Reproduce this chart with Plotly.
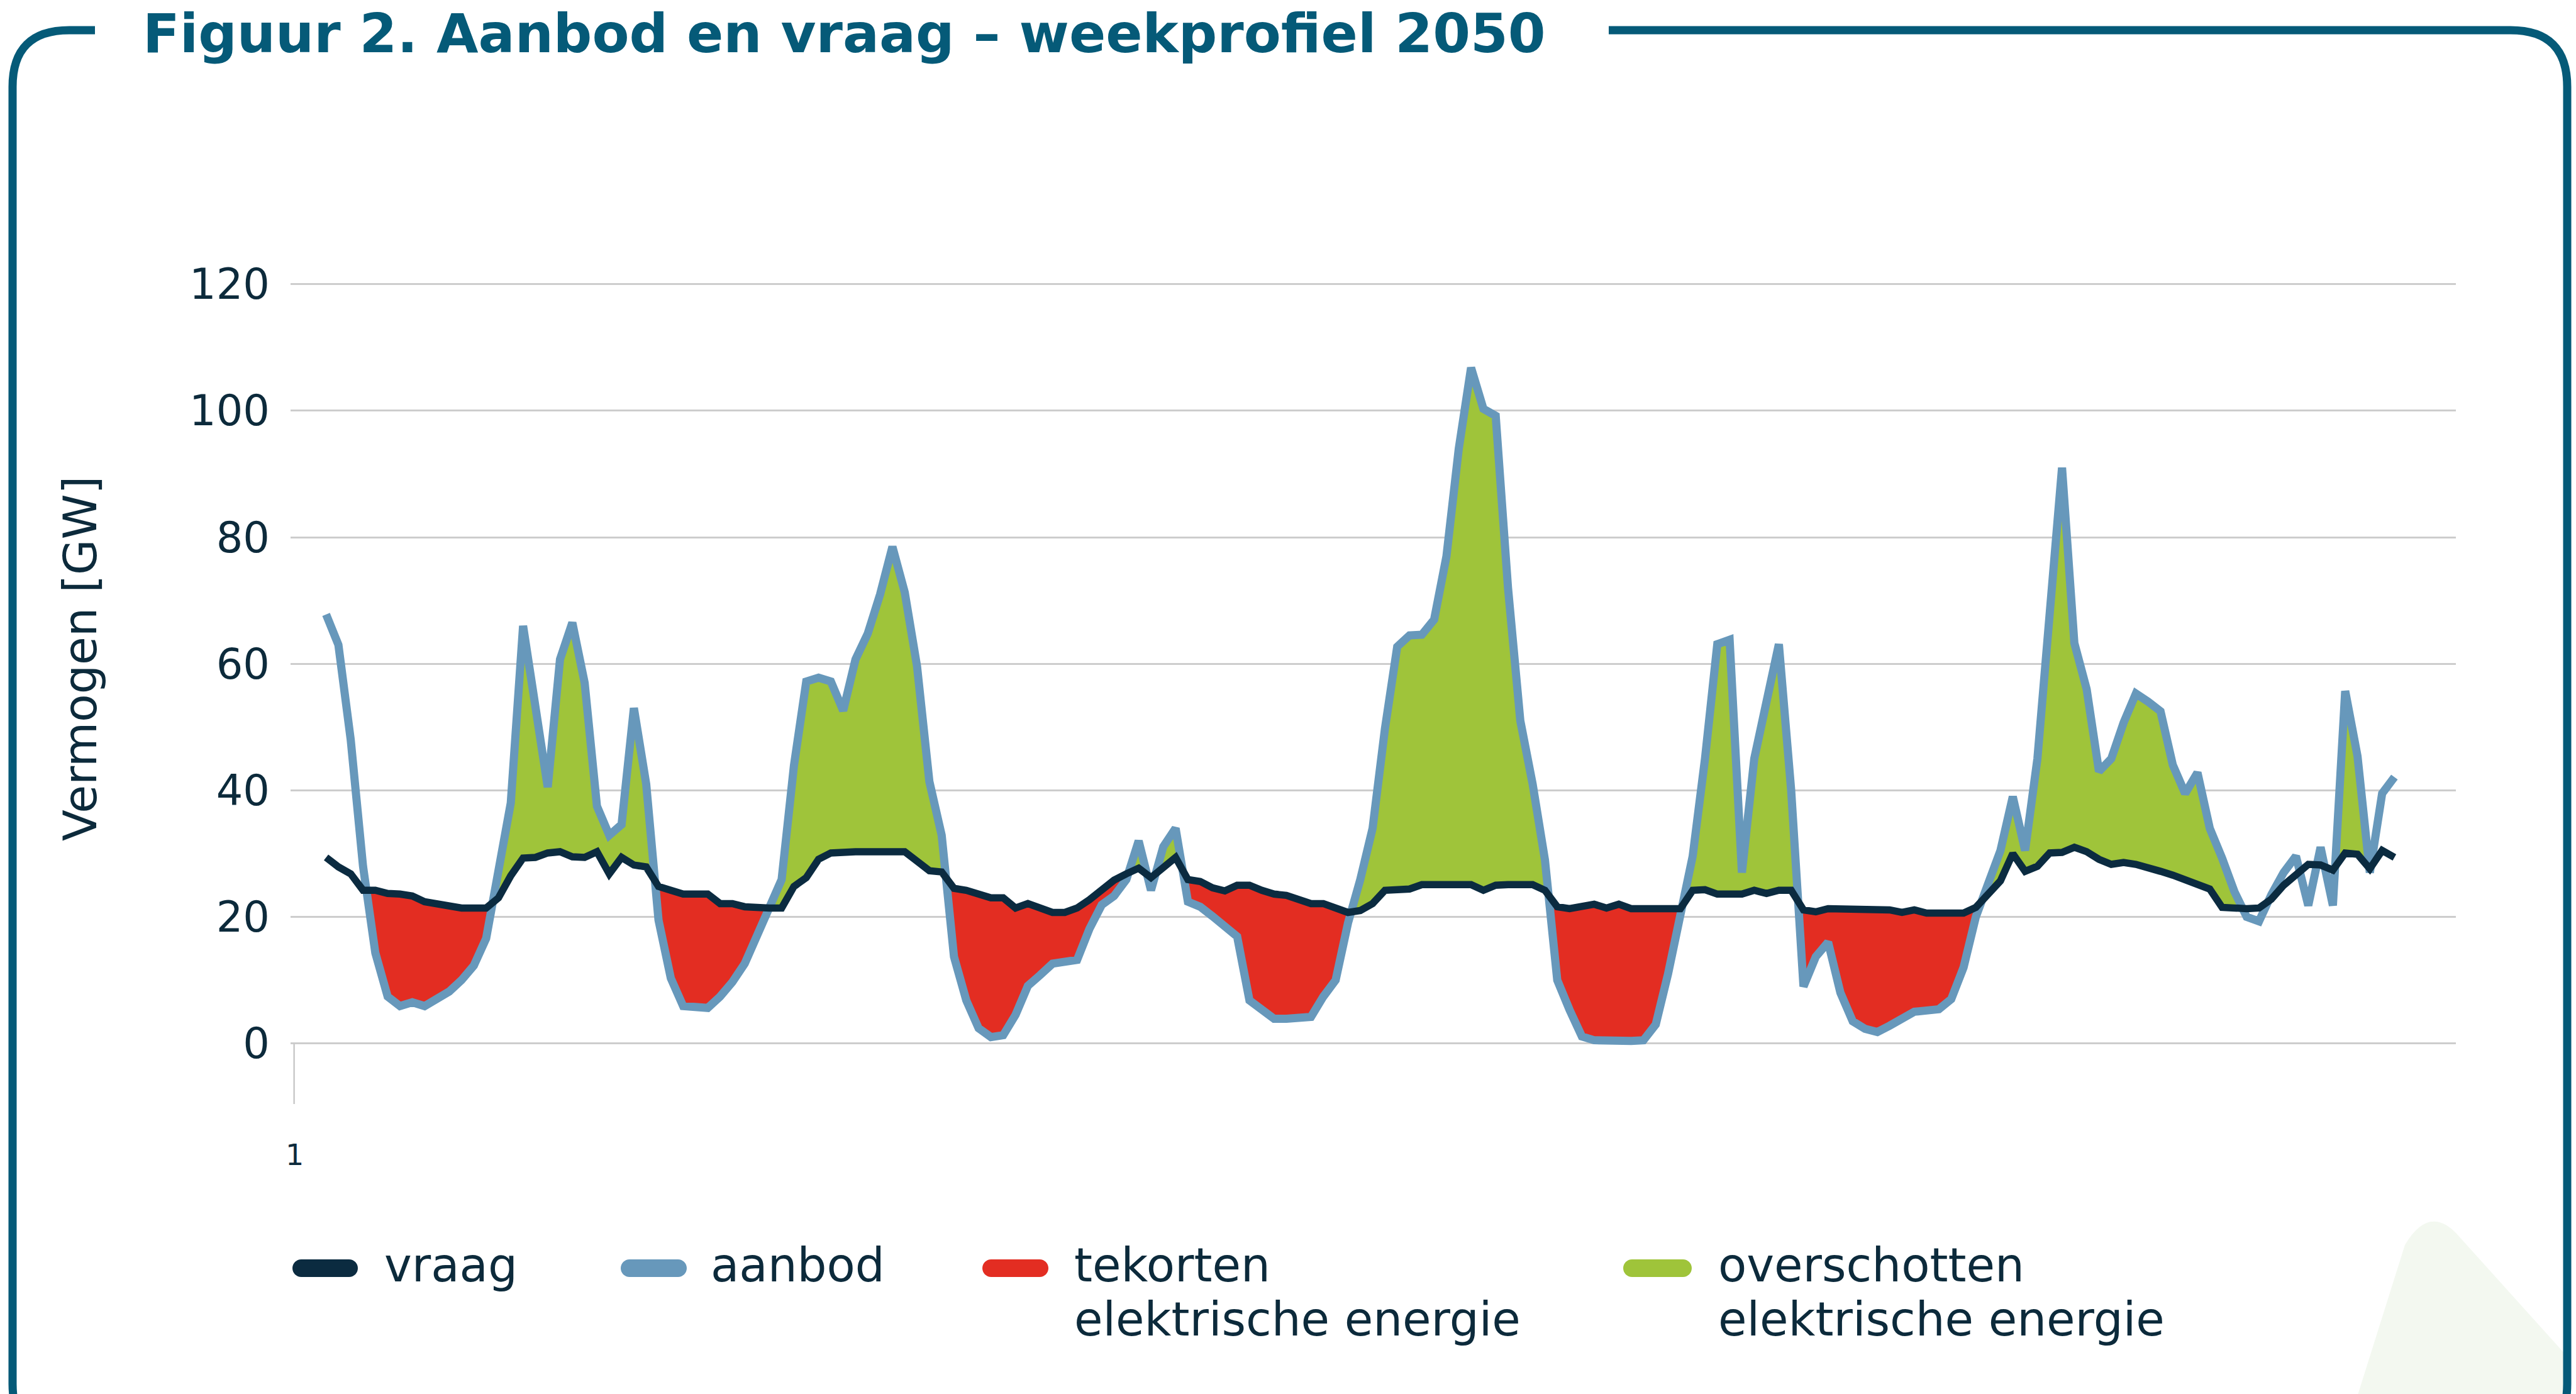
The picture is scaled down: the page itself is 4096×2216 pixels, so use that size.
import plotly.graph_objects as go

# ---------------- data ----------------
uren = list(range(169))  # hour offset within the week

aanbod = [
    67.8, 63.0, 48.0, 28.0, 14.3, 7.4, 5.9, 6.5, 5.9, 7.1,
    8.2, 10.0, 12.3, 16.6, 27.7, 38.0, 66.0, 54.0, 40.5, 60.7,
    66.5, 57.0, 37.5, 32.9, 34.6, 53.0, 41.0, 19.5, 10.3, 5.9,
    5.6, 5.6, 7.4, 9.7, 12.6, 17.2, 21.3, 25.9, 43.9, 57.2,
    57.8, 57.2, 52.6, 60.7, 64.8, 71.0, 78.5, 71.3, 59.6, 41.4,
    32.9, 13.7, 6.8, 2.4, 1.0, 1.3, 4.5, 9.1, 10.8, 12.6,
    12.9, 13.2, 18.1, 21.9, 23.3, 25.9, 32.0, 24.2, 31.1, 34.0,
    22.4, 21.6, 20.1, 18.4, 16.9, 6.8, 5.3, 3.9, 3.9, 3.9,
    4.2, 7.4, 10.0, 19.0, 25.9, 34.0, 49.7, 62.7, 64.5, 64.6,
    67.0, 77.0, 94.0, 106.8, 100.3, 99.2, 72.0, 51.0, 41.0, 29.0,
    10.0, 5.3, 1.1, 0.5, 0.4, 0.4, 0.4, 0.5, 3.0, 11.0,
    20.0, 29.6, 45.0, 63.1, 63.8, 27.0, 45.0, 54.0, 63.1, 40.0,
    9.0, 13.7, 16.0, 8.0, 3.5, 2.3, 1.8, 2.8, 4.0, 5.0,
    5.2, 5.4, 7.0, 12.0, 20.0, 25.5, 30.5, 39.0, 30.5, 45.0,
    70.0, 91.0, 63.3, 56.0, 43.0, 45.0, 50.7, 55.3, 54.0, 52.5,
    44.0, 39.5, 42.8, 34.0, 29.3, 24.0, 20.0, 19.3, 23.5, 27.0,
    29.6, 21.8, 31.0, 21.8, 55.7, 45.4, 27.0, 39.5, 42.1,
]

vraag = [
    29.4, 27.9, 26.8, 24.2, 24.2, 23.7, 23.6, 23.3, 22.4, 22.1,
    21.6, 21.4, 21.4, 21.4, 23.0, 26.5, 29.3, 29.4, 30.1, 30.3,
    29.5, 29.4, 30.3, 26.8, 29.4, 28.2, 27.9, 24.8, 24.2, 23.6,
    23.6, 23.6, 22.1, 22.1, 21.6, 21.4, 21.4, 21.4, 24.8, 26.2,
    29.1, 30.1, 30.3, 30.3, 30.3, 30.3, 30.3, 30.3, 28.8, 27.3,
    27.1, 24.5, 24.2, 23.6, 23.0, 23.0, 21.4, 22.1, 21.4, 20.7,
    20.7, 21.4, 22.7, 24.3, 25.8, 26.8, 27.7, 26.2, 27.9, 29.4,
    25.9, 25.6, 24.6, 24.1, 25.0, 25.0, 24.2, 23.6, 23.4, 22.7,
    22.1, 22.1, 21.4, 20.7, 21.0, 22.1, 24.2, 24.2, 24.4, 25.1,
    25.1, 25.1, 25.1, 25.1, 24.2, 25.0, 25.1, 25.1, 25.1, 24.2,
    21.6, 21.3, 21.7, 22.0, 21.4, 22.0, 21.3, 21.3, 21.3, 21.3,
    21.3, 24.2, 24.3, 23.6, 23.6, 23.6, 24.2, 23.7, 24.2, 24.2,
    21.1, 20.8, 21.3, 21.3, 21.3, 21.3, 21.3, 21.1, 20.7, 21.1,
    20.6, 20.6, 20.6, 20.6, 21.5, 23.6, 25.7, 30.0, 27.2, 28.0,
    30.1, 30.2, 31.0, 30.3, 29.1, 28.3, 28.6, 28.3, 27.6, 27.2,
    26.6, 25.9, 25.4, 24.4, 21.5, 21.3, 21.3, 21.4, 22.8, 25.0,
    26.6, 28.3, 28.2, 27.4, 30.1, 29.9, 27.6, 30.5, 29.4,
]

# hour spans in which the source shows tekorten / overschotten shading
vul_bereik = [(3.0, 155.0), (163.0, 165.5)]

y_ticks = [0, 20, 40, 60, 80, 100, 120]
x_ticklabel = "1"

titel = "Figuur 2. Aanbod en vraag \u2013 weekprofiel 2050"
y_titel = "Vermogen [GW]"
legenda = [
    ("vraag", None, "#0b2b40"),
    ("aanbod", None, "#6798bb"),
    ("tekorten", "elektrische energie", "#e32d22"),
    ("overschotten", "elektrische energie", "#9fc43a"),
]

# ---------------- styling ----------------
C_VRAAG = "#0b2b40"
C_AANBOD = "#6798bb"
C_ROOD = "#e32d22"
C_GROEN = "#9fc43a"
C_TEKST = "#0c2a3b"
C_KADER = "#055a78"
FONT = "DejaVu Sans"

W, H = 4096, 2216
L, R, T, B = 462, 3905, 442, 1755
X_RANGE = [-2.887, 172.99]
Y_RANGE = [-9.58, 120.98]


def px(xp):
    return (xp - L) / (R - L)


def py(yp):
    return (B - yp) / (B - T)


# ---------------- fill polygons between aanbod and vraag ----------------
def runs_between(xs, a, v):
    pts = []
    for k in range(len(xs)):
        if k > 0:
            d0 = a[k - 1] - v[k - 1]
            d1 = a[k] - v[k]
            if d0 * d1 < 0:
                t = d0 / (d0 - d1)
                xc = xs[k - 1] + t * (xs[k] - xs[k - 1])
                yc = a[k - 1] + t * (a[k] - a[k - 1])
                pts.append((xc, yc, yc))
        pts.append((xs[k], a[k], v[k]))
    runs = []
    cur = []
    cur_sign = 0
    for p in pts:
        d = p[1] - p[2]
        s = 0 if abs(d) < 1e-9 else (1 if d > 0 else -1)
        if s == 0:
            if cur:
                cur.append(p)
                runs.append((cur_sign, cur))
            cur = [p]
            cur_sign = 0
        else:
            if cur_sign == 0 or s == cur_sign:
                cur_sign = s
                cur.append(p)
            else:
                runs.append((cur_sign, cur))
                cur = [p]
                cur_sign = s
    if cur:
        runs.append((cur_sign, cur))
    return runs


def in_bereik(xm):
    return any(lo <= xm <= hi for lo, hi in vul_bereik)


fig = go.Figure()

for sign, run in runs_between(uren, aanbod, vraag):
    if sign == 0 or len(run) < 2:
        continue
    xm = 0.5 * (run[0][0] + run[-1][0])
    if not in_bereik(xm):
        continue
    xs = [p[0] for p in run] + [p[0] for p in reversed(run)]
    ys = [p[1] for p in run] + [p[2] for p in reversed(run)]
    fig.add_trace(go.Scatter(
        x=xs, y=ys, mode="lines", fill="toself",
        fillcolor=C_GROEN if sign > 0 else C_ROOD,
        line=dict(width=0), hoverinfo="skip", showlegend=False))

fig.add_trace(go.Scatter(x=uren, y=aanbod, mode="lines", name="aanbod",
                         line=dict(color=C_AANBOD, width=13), showlegend=False))
fig.add_trace(go.Scatter(x=uren, y=vraag, mode="lines", name="vraag",
                         line=dict(color=C_VRAAG, width=11.5), showlegend=False))

# ---------------- decorations ----------------
shapes = []


def path_px(cmds):
    out = []
    for c in cmds:
        if isinstance(c, str):
            out.append(c)
        else:
            out.append(f"{px(c[0]):.5f},{py(c[1]):.5f}")
    return " ".join(out)


# light green corner decoration (bottom right)
shapes.append(dict(
    type="path", xref="paper", yref="paper", layer="below",
    path=path_px(["M", (3745, 2230), "L", (3824, 1979), "Q", (3862, 1915), (3906, 1961),
                  "L", (4079, 2153), "L", (4079, 2230), "Z"]),
    fillcolor="rgb(243,248,240)", line=dict(width=0)))

# rounded frame with a gap for the title
fl, ft, fr, fb, rad = 20, 48, 4082, 2290, 90
shapes.append(dict(
    type="path", xref="paper", yref="paper", layer="above",
    path=path_px(["M", (151, ft), "L", (fl + rad, ft), "Q", (fl, ft), (fl, ft + rad),
                  "L", (fl, fb - rad), "Q", (fl, fb), (fl + rad, fb),
                  "L", (fr - rad, fb), "Q", (fr, fb), (fr, fb - rad),
                  "L", (fr, ft + rad), "Q", (fr, ft), (fr - rad, ft),
                  "L", (2558, ft)]),
    line=dict(color=C_KADER, width=13)))

# short vertical axis stub below zero
shapes.append(dict(type="line", xref="x", yref="y", x0=-2.6, x1=-2.6,
                   y0=Y_RANGE[0], y1=0, line=dict(color="#c9c9c9", width=2.5)))


# legend markers
def pill(x0, x1, yc, h):
    r = h / 2.0
    k = 0.5523 * r
    top, bot = yc - r, yc + r
    return path_px(["M", (x0 + r, top), "L", (x1 - r, top),
                    "C", (x1 - r + k, top), (x1, yc - k), (x1, yc),
                    "C", (x1, yc + k), (x1 - r + k, bot), (x1 - r, bot),
                    "L", (x0 + r, bot),
                    "C", (x0 + r - k, bot), (x0, yc + k), (x0, yc),
                    "C", (x0, yc - k), (x0 + r - k, top), (x0 + r, top), "Z"])


leg_marker_x = [(465, 569), (987, 1092), (1562, 1667), (2581, 2690)]
leg_text_x = [609, 1128, 1706, 2730]
leg_y1, leg_y2 = 2011, 2097
for (x0, x1), (lab1, lab2, col) in zip(leg_marker_x, legenda):
    shapes.append(dict(type="path", xref="paper", yref="paper",
                       path=pill(x0, x1, 2016, 28), fillcolor=col,
                       line=dict(width=0)))

annotations = []
for xt, (lab1, lab2, col) in zip(leg_text_x, legenda):
    annotations.append(dict(xref="paper", yref="paper", x=px(xt), y=py(leg_y1),
                            xanchor="left", yanchor="middle", showarrow=False,
                            text=lab1, font=dict(family=FONT, size=74, color=C_TEKST)))
    if lab2:
        annotations.append(dict(xref="paper", yref="paper", x=px(xt), y=py(leg_y2),
                                xanchor="left", yanchor="middle", showarrow=False,
                                text=lab2, font=dict(family=FONT, size=74, color=C_TEKST)))

# title, sitting in the gap of the frame's top line
annotations.append(dict(xref="paper", yref="paper", x=px(225), y=py(1),
                        xanchor="left", yanchor="top", showarrow=False,
                        text=f"<b>{titel}</b>",
                        font=dict(family=FONT, size=86, color=C_KADER)))

# y-axis title
annotations.append(dict(xref="paper", yref="paper", x=px(127), y=py(1047),
                        xanchor="center", yanchor="middle", showarrow=False,
                        textangle=-90, text=y_titel,
                        font=dict(family=FONT, size=73, color=C_TEKST)))

# x-axis start label
annotations.append(dict(xref="paper", yref="paper", x=px(468), y=py(1836),
                        xanchor="center", yanchor="middle", showarrow=False,
                        text=x_ticklabel,
                        font=dict(family=FONT, size=46, color=C_TEKST)))

fig.update_layout(
    width=W, height=H,
    margin=dict(l=L, r=W - R, t=T, b=H - B, autoexpand=False),
    paper_bgcolor="white", plot_bgcolor="white",
    showlegend=False,
    xaxis=dict(range=X_RANGE, showgrid=False, zeroline=False, showline=False,
               showticklabels=False, ticks=""),
    yaxis=dict(range=Y_RANGE, tickvals=y_ticks, showgrid=True, gridcolor="#cdcdcd",
               gridwidth=2.5, zeroline=False, showline=False, ticks="",
               ticklabelstandoff=32,
               tickfont=dict(family=FONT, size=67, color=C_TEKST)),
    shapes=shapes, annotations=annotations,
)

fig.write_html(
    "out.html",
    config={"displayModeBar": False},
    post_script="document.body.style.margin='0';document.body.style.overflow='hidden';",
)
